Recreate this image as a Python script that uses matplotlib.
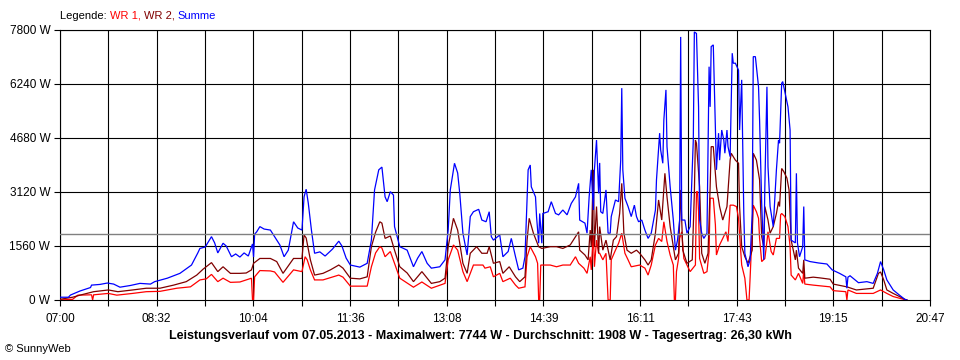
import matplotlib
matplotlib.use('Agg')
import matplotlib.pyplot as plt
import numpy as np

plt.rcParams['font.family'] = ['Liberation Sans', 'DejaVu Sans']

# ---------------- data (minutes after 07:00, watts) ----------------
span_min = 827  # 07:00 .. 20:47
x_tick_labels = ['07:00', '08:32', '10:04', '11:36', '13:08', '14:39',
                 '16:11', '17:43', '19:15', '20:47']
y_ticks = [0, 1560, 3120, 4680, 6240, 7800]
y_tick_labels = ['0 W', '1560 W', '3120 W', '4680 W', '6240 W', '7800 W']
avg_w = 1908
series_names = ['WR 1', 'WR 2', 'Summe']
series_colors = ['#ff0000', '#800000', '#0000ff']

sum_t = [0, 8, 10, 19, 29, 30, 38, 45, 51, 57, 67, 76, 86, 90, 102, 114, 125, 131, 133, 138,
         144, 147, 150, 155, 158, 163, 167, 171, 175, 179, 183, 184, 185, 187, 190, 194, 200,
         206, 209, 213, 217, 222, 226, 230, 232, 234, 236, 239, 242, 247, 252, 259, 265, 268,
         272, 276, 285, 292, 296, 299, 303, 306, 309, 311, 314, 317, 318, 323, 330, 336, 340,
         344, 349, 353, 361, 366, 369, 371, 375, 378, 380, 383, 387, 390, 393, 398, 401, 405,
         408, 410, 412, 418, 421, 426, 429, 433, 436, 440, 442, 444, 445, 447, 448, 452, 453,
         455, 456, 458, 459, 464, 467, 471, 474, 478, 482, 486, 490, 493, 494, 499, 501, 503,
         505, 507, 508, 510, 512, 513, 514, 516, 519, 521, 523, 524, 528, 531, 533, 534, 535,
         537, 540, 543, 546, 548, 550, 553, 556, 559, 562, 566, 567, 570, 571, 573, 574, 576,
         577, 580, 583, 585, 587, 589, 590, 591, 594, 596, 599, 602, 603, 605, 607, 608, 610,
         612, 615, 617, 618, 619, 621, 622, 624, 626, 627, 629, 631, 632, 634, 635, 637, 639,
         640, 642, 645, 646, 648, 650, 651, 654, 656, 658, 659, 661, 664, 665, 667, 669, 670,
         672, 673, 675, 678, 681, 683, 684, 686, 687, 690, 692, 694, 695, 699, 700, 701, 703,
         706, 707, 708, 713, 721, 729, 734, 741, 747, 748, 749, 751, 759, 767, 773, 777, 780,
         783, 786, 792, 798, 803, 805]
sum_w = [80, 80, 144, 260, 360, 430, 450, 490, 460, 370, 420, 480, 460, 530, 630, 770, 1010, 1360,
         1490, 1530, 1830, 1650, 1360, 1640, 1560, 1250, 1330, 1240, 1360, 1270, 1620, 1240, 1900,
         1970, 2120, 2050, 2020, 1730, 1590, 1250, 1440, 2260, 2080, 2020, 2980, 3200, 2800, 2020,
         1350, 1390, 1270, 1470, 1700, 1560, 1210, 1010, 950, 1060, 1730, 3180, 3760, 3840, 2980,
         2840, 3130, 3030, 2120, 1540, 1440, 960, 1210, 1400, 1060, 920, 960, 1160, 2020, 3180,
         3950, 3670, 3080, 1930, 1300, 2410, 2550, 2620, 2310, 2260, 2550, 1830, 1730, 1880, 1250,
         1400, 1780, 1250, 870, 920, 1250, 2890, 3760, 3900, 3270, 2980, 2410, 1640, 2500, 1640,
         2500, 2550, 2840, 2500, 2460, 2600, 2460, 2790, 2980, 3370, 2310, 2220, 1930, 2980, 3760,
         2600, 3760, 4620, 3080, 3960, 2550, 2500, 3180, 1930, 1930, 2410, 2890, 2840, 4040, 6120,
         3760, 2940, 2700, 2410, 2740, 2410, 2260, 2310, 2020, 1780, 1930, 2600, 3470, 4820, 4330,
         3950, 5200, 6070, 4430, 3270, 2310, 1440, 1730, 2310, 7600, 2310, 2310, 1930, 2120, 4620,
         7744, 7700, 5580, 2310, 1930, 1780, 1930, 6740, 5580, 7320, 7370, 6160, 3760, 4820, 4040,
         4910, 4620, 4240, 4910, 4430, 4140, 7130, 6840, 6840, 6640, 4910, 6360, 2500, 1350, 960,
         1160, 2500, 7030, 7030, 6160, 5200, 2790, 1160, 3270, 6160, 3850, 2700, 2120, 3760, 4620,
         4530, 6260, 6310, 5870, 5580, 4910, 1730, 1650, 3660, 1650, 1250, 1540, 2700, 1160, 1110,
         1070, 1040, 870, 770, 670, 340, 660, 700, 500, 530, 480, 770, 1110, 870, 580, 290, 140,
         20, 0]

wr2_t = [0, 12, 19, 32, 46, 55, 69, 82, 95, 108, 120, 130, 136, 144, 150, 155, 162, 171, 177, 182,
         184, 190, 200, 206, 212, 222, 230, 232, 234, 238, 242, 250, 257, 265, 269, 276, 285, 292,
         296, 300, 304, 306, 309, 314, 318, 323, 330, 336, 344, 353, 361, 366, 369, 374, 378, 383,
         387, 390, 396, 401, 406, 408, 412, 418, 421, 427, 433, 437, 442, 444, 446, 450, 455, 458,
         466, 472, 478, 485, 490, 493, 494, 499, 502, 504, 505, 507, 508, 510, 512, 513, 516, 519,
         523, 526, 529, 532, 534, 536, 539, 543, 548, 551, 556, 559, 562, 566, 569, 572, 575, 577,
         580, 583, 585, 588, 590, 592, 596, 601, 603, 604, 605, 608, 610, 613, 616, 618, 619, 621,
         624, 627, 630, 634, 637, 638, 642, 645, 646, 648, 651, 654, 658, 659, 662, 665, 667, 669,
         670, 673, 675, 678, 681, 683, 684, 686, 688, 691, 693, 695, 699, 700, 702, 706, 707, 708,
         716, 722, 732, 735, 748, 757, 773, 778, 780, 783, 786, 792, 798, 803, 805]
wr2_w = [20, 80, 140, 240, 290, 240, 290, 340, 340, 430, 530, 720, 890, 1080, 820, 960, 770, 770,
         780, 870, 1060, 1200, 1200, 1110, 770, 1200, 1200, 1880, 1790, 1160, 720, 770, 870, 1010,
         920, 630, 610, 670, 1540, 1960, 2260, 2220, 1780, 1850, 1440, 960, 780, 530, 820, 480, 530,
         630, 1540, 2360, 2020, 1060, 770, 1350, 1540, 1350, 1350, 1540, 1060, 1110, 770, 960, 670,
         530, 670, 1730, 2360, 1930, 1540, 1490, 1540, 1540, 1490, 1590, 1830, 1970, 1440, 1300,
         1160, 2020, 1540, 3760, 1540, 2700, 1350, 2120, 1440, 1730, 1160, 1730, 1830, 2500, 3370,
         1930, 1440, 1350, 1440, 1350, 1160, 1010, 1160, 1930, 2890, 2310, 3660, 2980, 2120, 1540,
         1160, 1350, 3180, 1440, 1060, 1160, 3080, 4620, 4530, 3270, 1350, 1060, 1350, 3270, 4430,
         4430, 3270, 2700, 2310, 2700, 4040, 4240, 4040, 3950, 2700, 1540, 1250, 1060, 1440, 4240,
         4040, 3470, 1830, 1540, 2700, 2310, 1930, 2120, 2500, 2840, 2700, 3800, 3710, 3520, 3180,
         1730, 1160, 1440, 920, 770, 1160, 630, 660, 640, 600, 460, 380, 290, 340, 770, 810, 580,
         290, 190, 100, 20, 0]

wr1_t = [0, 12, 17, 30, 31, 32, 46, 54, 69, 82, 95, 111, 124, 133, 139, 144, 150, 155, 162, 171,
         182, 183, 184, 185, 190, 200, 204, 212, 222, 230, 233, 235, 238, 242, 250, 265, 269, 276,
         292, 296, 300, 304, 306, 309, 314, 318, 323, 336, 344, 353, 366, 369, 374, 378, 383, 387,
         390, 393, 402, 404, 409, 412, 418, 421, 428, 433, 436, 442, 444, 447, 452, 454, 455, 456,
         457, 466, 472, 478, 485, 490, 493, 498, 501, 504, 505, 507, 508, 510, 512, 513, 516, 519,
         521, 523, 524, 528, 531, 534, 537, 540, 543, 551, 556, 559, 562, 566, 569, 572, 574, 577,
         580, 583, 584, 585, 586, 588, 589, 591, 593, 596, 599, 604, 605, 606, 607, 608, 612, 615,
         617, 618, 621, 623, 624, 627, 630, 633, 635, 637, 640, 643, 645, 646, 648, 651, 653, 655,
         656, 659, 662, 664, 665, 667, 670, 672, 673, 676, 678, 681, 684, 685, 686, 689, 692, 694,
         695, 699, 702, 706, 707, 708, 716, 732, 735, 747, 748, 749, 757, 773, 780, 786, 792, 798,
         803, 805]
wr1_w = [0, 20, 140, 150, 0, 150, 190, 140, 190, 240, 250, 340, 380, 580, 610, 740, 530, 630, 510,
         520, 630, 0, 0, 670, 850, 840, 810, 510, 870, 820, 1250, 1160, 870, 580, 580, 720, 660, 400,
         400, 960, 1360, 1540, 1500, 1250, 1400, 1060, 630, 370, 520, 340, 480, 1160, 1590, 1440,
         820, 530, 770, 1010, 1010, 920, 960, 670, 770, 530, 630, 430, 340, 380, 1250, 1540, 1250,
         1060, 0, 0, 1010, 1010, 960, 1010, 1010, 1250, 1060, 920, 770, 1250, 870, 1930, 960, 1730,
         1350, 1350, 1160, 1350, 0, 0, 1160, 1440, 1640, 1930, 1350, 1160, 960, 1010, 920, 720, 1010,
         1590, 1780, 1690, 2260, 1690, 1300, 1010, 0, 0, 820, 1200, 1780, 1970, 1200, 1010, 820,
         1010, 3130, 3130, 2550, 1200, 770, 820, 1400, 2940, 2940, 2170, 1300, 1590, 1780, 1970,
         1690, 2740, 2740, 2700, 2360, 1880, 1010, 630, 0, 0, 640, 2740, 2550, 2360, 1780, 1110,
         1200, 1690, 1970, 1400, 1300, 1780, 1780, 2460, 2500, 2410, 2120, 1540, 720, 580, 770, 480,
         870, 460, 430, 380, 270, 240, 0, 290, 190, 190, 290, 190, 100, 50, 10, 0]

legend_title = 'Legende: '
title_text = ('Leistungsverlauf vom 07.05.2013 - Maximalwert: 7744 W - '
              'Durchschnitt: 1908 W - Tagesertrag: 26,30 kWh')
credit_text = '\u00a9 SunnyWeb'

# ---------------- figure ----------------
W, H = 960, 360
fig = plt.figure(figsize=(W / 100, H / 100), dpi=100)
fig.patch.set_facecolor('white')
ax = fig.add_axes([60 / W, 1 - 300 / H, 870 / W, 270 / H])

major_x = np.linspace(0, span_min, len(x_tick_labels))
minor_x = (major_x[:-1] + major_x[1:]) / 2

for xv in np.concatenate([major_x, minor_x]):
    ax.axvline(xv, color='black', lw=0.8, zorder=1)
for yv in y_ticks[1:]:
    ax.axhline(yv, color='black', lw=0.8, zorder=1)

for (t, w), name, col in zip([(wr1_t, wr1_w), (wr2_t, wr2_w), (sum_t, sum_w)],
                             series_names, series_colors):
    ax.plot(t, w, color=col, lw=0.9, zorder=3, solid_joinstyle='miter')

ax.axhline(avg_w, color='#808080', lw=1.0, zorder=4)

ax.set_xlim(0, span_min)
ax.set_ylim(0, 7800)
ax.set_xticks(major_x)
ax.set_xticklabels(x_tick_labels)
ax.set_xticks(minor_x, minor=True)
ax.set_yticks(y_ticks)
ax.set_yticklabels(y_tick_labels)
ax.tick_params(axis='x', which='both', direction='out', length=4, width=0.8,
               pad=5, labelsize=8.5, colors='black')
ax.tick_params(axis='y', which='both', direction='out', length=4, width=0.8,
               pad=3, labelsize=8.5, colors='black')
for s in ax.spines.values():
    s.set_color('black')
    s.set_linewidth(0.8)

# bottom title and credit
fig.text(480 / W, 1 - 336 / H, title_text, ha='center', va='center',
         fontsize=9, fontweight='bold', color='black')
fig.text(5 / W, 1 - 349 / H, credit_text, ha='left', va='center',
         fontsize=8, color='black')

# legend line at top
fig.canvas.draw()
r = fig.canvas.get_renderer()
parts = [(legend_title, 'black')]
for i, (n, c) in enumerate(zip(series_names, series_colors)):
    parts.append((n + (', ' if i < len(series_names) - 1 else ''), c))
x = 60 / W
for txt, col in parts:
    t = fig.text(x, 1 - 16 / H, txt, ha='left', va='center', fontsize=8, color=col)
    bb = t.get_window_extent(renderer=r)
    x = bb.x1 / fig.bbox.width

fig.savefig('out.png', dpi=100, facecolor='white')
